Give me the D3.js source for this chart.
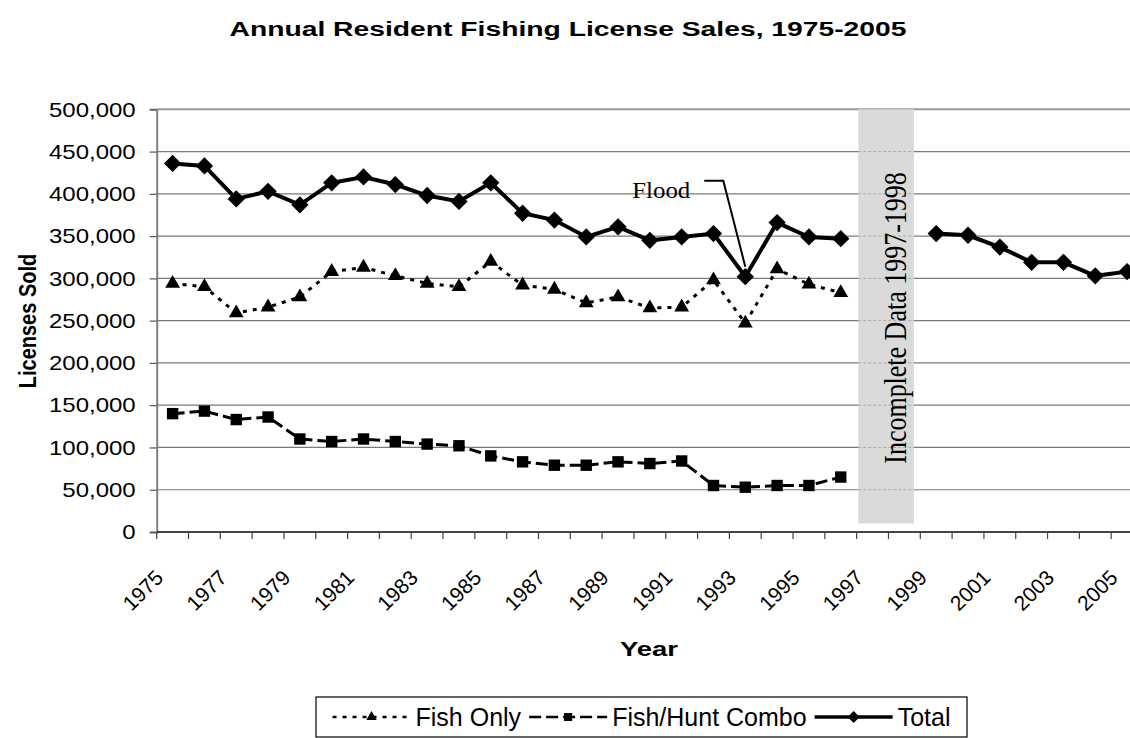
<!DOCTYPE html>
<html>
<head>
<meta charset="utf-8">
<script src="https://cdn.jsdelivr.net/npm/d3@7"></script>
<style>
    body { margin: 0; background: #fff; }
    svg { display: block; }
    text { font-family: "Liberation Sans", Arial, sans-serif; fill: #000; }
</style>
</head>
<body>
<div id="chart"></div>
<script>
// chart data
var years = [1975, 1976, 1977, 1978, 1979, 1980, 1981, 1982, 1983, 1984, 1985, 1986, 1987, 1988, 1989, 1990,
    1991, 1992, 1993, 1994, 1995, 1996, 1997, 1998, 1999, 2000, 2001, 2002, 2003, 2004, 2005];
var fishOnly = [294000, 290000, 259000, 266000, 278000, 308000, 313000, 303000, 294000, 290000, 320000, 292000,
    287000, 271000, 278000, 265000, 266000, 298000, 247000, 311000, 293000, 283000, null, null,
    null, null, null, null, null, null, null];
var fishHuntCombo = [140000, 143000, 133000, 136000, 110000, 107000, 110000, 107000, 104000, 102000, 90000, 83000,
    79000, 79000, 83000, 81000, 84000, 55000, 53000, 55000, 55000, 65000, null, null,
    null, null, null, null, null, null, null];
var total = [436000, 433000, 394000, 403000, 387000, 413000, 420000, 411000, 398000, 391000, 413000, 377000,
    369000, 349000, 361000, 345000, 349000, 353000, 302000, 366000, 349000, 347000, null, null,
    353000, 351000, 337000, 319000, 319000, 303000, 308000];
var yTicks = [0, 50000, 100000, 150000, 200000, 250000, 300000, 350000, 400000, 450000, 500000];
var xLabels = [1975, 1977, 1979, 1981, 1983, 1985, 1987, 1989, 1991, 1993, 1995, 1997, 1999, 2001, 2003, 2005];
var gapYears = [1997, 1998];
var gapLabel = "Incomplete Data 1997-1998";
var floodYear = 1993;

// the original picture is stretched sideways, horizontal text gets the same treatment
var stretch = 1.2;

var width = 1130;
var height = 738;
var plotLeft = 156.7;
var plotTop = 109.3;
var plotBottom = 532;
var plotRight = 1143;

var svg = d3.select("#chart")
    .append("svg")
    .attr("width", width)
    .attr("height", height);

var x = d3.scaleBand()
    .domain(years)
    .range([plotLeft, plotRight])
    .padding(0);

var y = d3.scaleLinear()
    .domain([0, 500000])
    .range([plotBottom, plotTop]);

function cx(year) { return x(year) + x.bandwidth() / 2; }

// Title
svg.append("text")
    .attr("x", 568)
    .attr("y", 36)
    .attr("text-anchor", "middle")
    .style("font-size", "20px")
    .style("font-weight", "bold")
    .attr("textLength", 677)
    .attr("lengthAdjust", "spacingAndGlyphs")
    .text("Annual Resident Fishing License Sales, 1975-2005");

// gridlines
svg.append("g")
    .selectAll("line")
    .data(yTicks.slice(1))
    .enter().append("line")
    .attr("x1", plotLeft)
    .attr("x2", plotRight)
    .attr("y1", function (d) { return y(d); })
    .attr("y2", function (d) { return y(d); })
    .attr("stroke", function (d) { return d === 500000 ? "#999" : "#7a7a7a"; })
    .attr("stroke-width", function (d) { return d === 500000 ? 2 : 1.2; });

// shaded band for missing years
var bandX0 = x(gapYears[0]) + 1.6;
var bandX1 = x(gapYears[1]) + x.bandwidth() * 0.8;
svg.append("rect")
    .attr("x", bandX0)
    .attr("y", y(500000))
    .attr("width", bandX1 - bandX0)
    .attr("height", y(10000) - y(500000))
    .attr("fill", "#dadada");

svg.append("g")
    .selectAll("line")
    .data(yTicks.slice(1, -1))
    .enter().append("line")
    .attr("x1", bandX0)
    .attr("x2", bandX1)
    .attr("y1", function (d) { return y(d); })
    .attr("y2", function (d) { return y(d); })
    .attr("stroke", "#aaa")
    .attr("stroke-dasharray", "3,2");

svg.append("text")
    .attr("transform", "translate(" + ((bandX0 + bandX1) / 2 + 20) + "," + 318 + ") scale(" + stretch + ",1) rotate(-90)")
    .attr("text-anchor", "middle")
    .style("font-family", "'Liberation Serif', 'Times New Roman', serif")
    .style("font-size", "26px")
    .text(gapLabel);

// y axis
var yAxis = svg.append("g")
    .attr("transform", "translate(" + plotLeft + ",0)")
    .call(d3.axisLeft(y).tickValues(yTicks).tickSize(7).tickFormat(d3.format(",")));
yAxis.select(".domain").attr("stroke", "#808080").attr("stroke-width", 2);
yAxis.selectAll(".tick line").attr("stroke", "#555").attr("stroke-width", 1.2);
yAxis.selectAll(".tick text")
    .attr("x", null)
    .attr("dy", "0.34em")
    .attr("transform", "translate(-21,0) scale(" + stretch + ",1)")
    .style("font-size", "20px")
    .style("font-family", "'Liberation Sans', Arial, sans-serif");

// x axis: ticks between categories, labels every other year
var xAxisG = svg.append("g");
xAxisG.append("line")
    .attr("x1", plotLeft)
    .attr("x2", plotRight)
    .attr("y1", plotBottom)
    .attr("y2", plotBottom)
    .attr("stroke", "#444")
    .attr("stroke-width", 2);
xAxisG.selectAll(".xtick")
    .data(years)
    .enter().append("line")
    .attr("class", "xtick")
    .attr("x1", function (d) { return x(d); })
    .attr("x2", function (d) { return x(d); })
    .attr("y1", plotBottom)
    .attr("y2", plotBottom + 7)
    .attr("stroke", "#444")
    .attr("stroke-width", 1.2);
xAxisG.selectAll(".xlabel")
    .data(xLabels)
    .enter().append("text")
    .attr("class", "xlabel")
    .attr("transform", function (d) {
        return "translate(" + (cx(d) - 8) + "," + (plotBottom + 47) + ") rotate(-45)";
    })
    .attr("text-anchor", "end")
    .style("font-size", "21px")
    .text(function (d) { return d; });

// axis titles
svg.append("text")
    .attr("transform", "translate(36,321) scale(" + stretch + ",1) rotate(-90)")
    .attr("text-anchor", "middle")
    .style("font-size", "20px")
    .style("font-weight", "bold")
    .text("Licenses Sold");

svg.append("text")
    .attr("x", 649)
    .attr("y", 656)
    .attr("text-anchor", "middle")
    .style("font-size", "20px")
    .style("font-weight", "bold")
    .attr("textLength", 58)
    .attr("lengthAdjust", "spacingAndGlyphs")
    .text("Year");

// series
var series = [
    { name: "Fish Only", values: fishOnly, width: 3, dash: "4,6", marker: d3.symbolTriangle, size: 95, rotate: 0 },
    { name: "Fish/Hunt Combo", values: fishHuntCombo, width: 3, dash: "12,5", marker: d3.symbolSquare, size: 130, rotate: 0 },
    { name: "Total", values: total, width: 4, dash: null, marker: d3.symbolSquare, size: 150, rotate: 45 }
];

var line = d3.line()
    .defined(function (d) { return d.v !== null; })
    .x(function (d) { return cx(d.year); })
    .y(function (d) { return y(d.v); });

series.forEach(function (s) {
    var pts = years.map(function (yr, i) { return { year: yr, v: s.values[i] }; });
    svg.append("path")
        .datum(pts)
        .attr("d", line)
        .attr("fill", "none")
        .attr("stroke", "#000")
        .attr("stroke-width", s.width)
        .attr("stroke-dasharray", s.dash);

    svg.selectAll(null)
        .data(pts.filter(function (d) { return d.v !== null; }))
        .enter().append("path")
        .attr("d", d3.symbol().type(s.marker).size(s.size))
        .attr("transform", function (d) {
            return "translate(" + cx(d.year) + "," + y(d.v) + ") rotate(" + s.rotate + ")";
        })
        .attr("fill", "#000");
});

// flood note
var floodX = cx(floodYear);
var floodY = y(total[years.indexOf(floodYear)]);
svg.append("polyline")
    .attr("points", [[floodX - 41, floodY - 96], [floodX - 22, floodY - 96], [floodX, floodY - 10]].join(" "))
    .attr("fill", "none")
    .attr("stroke", "#000")
    .attr("stroke-width", 2);
svg.append("text")
    .attr("x", floodX - 113)
    .attr("y", floodY - 79)
    .style("font-family", "'Liberation Serif', 'Times New Roman', serif")
    .style("font-size", "24px")
    .attr("textLength", 58)
    .attr("lengthAdjust", "spacingAndGlyphs")
    .text("Flood");

// legend: sample line + marker + name, laid out left to right and centred in the box
var boxX = 316, boxW = 651, boxY = 697, boxH = 40;
var legend = svg.append("g");
legend.append("rect")
    .attr("x", boxX)
    .attr("y", boxY)
    .attr("width", boxW)
    .attr("height", boxH)
    .attr("fill", "#fff")
    .attr("stroke", "#000")
    .attr("stroke-width", 1.2);

var sampleLen = 78;
var ly = boxY + boxH / 2;
var items = series.map(function (s) {
    var g = legend.append("g");
    g.append("line")
        .attr("x1", 0)
        .attr("x2", sampleLen)
        .attr("y1", ly)
        .attr("y2", ly)
        .attr("stroke", "#000")
        .attr("stroke-width", s.width - 0.5)
        .attr("stroke-dasharray", s.dash);
    g.append("path")
        .attr("d", d3.symbol().type(s.marker).size(s.size * 0.5))
        .attr("transform", "translate(" + sampleLen / 2 + "," + ly + ") rotate(" + s.rotate + ")")
        .attr("fill", "#000");
    var t = g.append("text")
        .attr("x", sampleLen + 5)
        .attr("y", ly + 9)
        .style("font-size", "25px")
        .text(s.name);
    return { g: g, w: sampleLen + 5 + t.node().getComputedTextLength() };
});
var gapBetween = 8;
var contentW = d3.sum(items, function (d) { return d.w; }) + gapBetween * (items.length - 1);
var lx = boxX + (boxW - contentW) / 2;
items.forEach(function (it) {
    it.g.attr("transform", "translate(" + lx + ",0)");
    lx += it.w + gapBetween;
});
</script>
</body>
</html>
